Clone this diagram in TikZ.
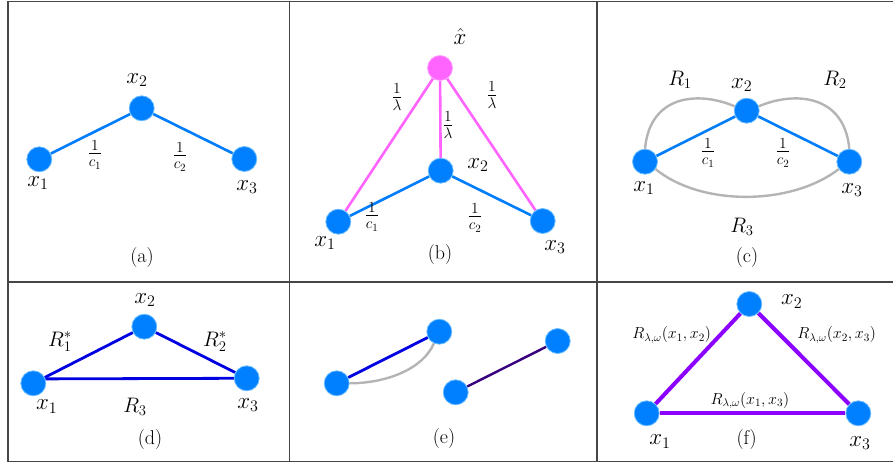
\RequirePackage{fix-cm}
\documentclass[tikz,border=0pt]{standalone}
\usepackage{amsmath}
\pgfdeclarelayer{bg}
\pgfsetlayers{bg,main}
\definecolor{nodeblue}{RGB}{0,128,255}
\definecolor{nodeedge}{RGB}{110,190,255}
\definecolor{edgeblue}{RGB}{0,125,250}
\definecolor{mag}{RGB}{255,100,255}
\definecolor{deepblue}{RGB}{0,0,225}
\definecolor{indig}{RGB}{55,0,125}
\definecolor{viol}{RGB}{140,0,255}
\definecolor{gridc}{RGB}{70,70,70}
\definecolor{curvegray}{RGB}{180,180,180}
\tikzset{
  vtx/.style={circle, minimum size=25pt, inner sep=0pt, fill=nodeblue, draw=nodeedge, line width=0.8pt},
  hvtx/.style={vtx, fill=mag, draw=mag!60!white},
  lab/.style={inner sep=0pt, font=\fontsize{23}{27}\selectfont},
  rlab/.style={inner sep=0pt, font=\fontsize{21}{25}\selectfont},
  flab/.style={inner sep=0pt, font=\fontsize{16}{19}\selectfont},
  caplab/.style={inner sep=0pt, font=\fontsize{20}{24}\selectfont},
  frc/.style={inner sep=0pt, font=\fontsize{22}{26}\selectfont},
  bluee/.style={draw=edgeblue, line width=2.6pt},
  mage/.style={draw=mag, line width=2.6pt},
  graye/.style={draw=curvegray, line width=2.4pt},
  deepe/.style={draw=deepblue, line width=2.8pt},
  indige/.style={draw=indig, line width=2.4pt},
  viole/.style={draw=viol, line width=4pt},
  gridline/.style={draw=gridc, line width=1.1pt}
}
\begin{document}
\begin{tikzpicture}[x=1pt,y=1pt]
\useasboundingbox (0,0) rectangle (893,464);
% grid
\coordinate (tl) at (8,462.5);
\coordinate (tr) at (893,462.5);
\coordinate (bl) at (8,2.5);
\coordinate (br) at (893,2.5);
\coordinate (ml) at (8,182);
\coordinate (mr) at (893,182);
\coordinate (v1t) at (289.7,462.5);
\coordinate (v1b) at (289.7,2.5);
\coordinate (v2t) at (597,462.5);
\coordinate (v2b) at (597,2.5);
\draw[gridline] (tr) -- (tl) -- (bl) -- (br);
\draw[gridline] (ml) -- (mr);
\draw[gridline] (v1t) -- (v1b);
\draw[gridline] (v2t) -- (v2b);

% ---------- panel (a)
\node[vtx] (ax1) at (39.3,304.7) {};
\node[vtx] (ax2) at (141.7,355.7) {};
\node[vtx] (ax3) at (244.3,305) {};
\node[lab] (ax1l) at (38,281) {$x_1$};
\node[lab] (ax2l) at (137,384) {$x_2$};
\node[lab] (ax3l) at (247,277) {$x_3$};
\node[frc] (ac1) at (95,309) {$\frac{1}{c_1}$};
\node[frc] (ac2) at (180,307) {$\frac{1}{c_2}$};
\node[caplab] (acap) at (142,206) {(a)};
\begin{pgfonlayer}{bg}
\draw[bluee] (ax1) -- (ax2);
\draw[bluee] (ax2) -- (ax3);
\end{pgfonlayer}

% ---------- panel (b)
\node[hvtx] (bh) at (440,396) {};
\node[vtx] (bx1) at (338.3,242.3) {};
\node[vtx] (bx2) at (440.7,293.3) {};
\node[vtx] (bx3) at (542.7,243) {};
\node[lab] (bhl) at (460,427) {$\hat{x}$};
\node[lab] (bx1l) at (325,221) {$x_1$};
\node[lab] (bx2l) at (478,299) {$x_2$};
\node[lab] (bx3l) at (555,217) {$x_3$};
\node[frc] (bl1) at (397,367) {$\frac{1}{\lambda}$};
\node[frc] (bl2) at (448,339) {$\frac{1}{\lambda}$};
\node[frc] (bl3) at (492,369) {$\frac{1}{\lambda}$};
\node[frc] (bc1) at (372,247) {$\frac{1}{c_1}$};
\node[frc] (bc2) at (475,246) {$\frac{1}{c_2}$};
\node[caplab] (bcap) at (440,209) {(b)};
\begin{pgfonlayer}{bg}
\draw[mage] (bh) -- (bx1);
\draw[mage] (bh) -- (bx2);
\draw[mage] (bh) -- (bx3);
\draw[bluee] (bx1) -- (bx2);
\draw[bluee] (bx2) -- (bx3);
\end{pgfonlayer}

% ---------- panel (c)
\node[vtx] (cx1) at (645,302.3) {};
\node[vtx] (cx2) at (746.7,353.3) {};
\node[vtx] (cx3) at (849.3,302.3) {};
\node[rlab] (cr1) at (680,384) {$R_1$};
\node[rlab] (cr2) at (835,384) {$R_2$};
\node[rlab] (cr3) at (742,237) {$R_3$};
\node[lab] (cx2l) at (741.7,379) {$x_2$};
\node[lab] (cx1l) at (644,276) {$x_1$};
\node[lab] (cx3l) at (852,274) {$x_3$};
\node[frc] (cc1) at (708,311) {$\frac{1}{c_1}$};
\node[frc] (cc2) at (783,311) {$\frac{1}{c_2}$};
\node[caplab] (ccap) at (747,206) {(c)};
\begin{pgfonlayer}{bg}
\draw[graye] (cx1.north) .. controls +(5,55) and +(-35,15) .. (cx2.160);
\draw[graye] (cx2.20) .. controls +(35,15) and +(-5,55) .. (cx3.north);
\draw[graye] (cx1.-35) .. controls +(45,-37) and +(-48,-37) .. (cx3.-145);
\draw[bluee] (cx1) -- (cx2);
\draw[bluee] (cx2) -- (cx3);
\end{pgfonlayer}

% ---------- panel (d)
\node[vtx] (dx1) at (33.3,80.7) {};
\node[vtx] (dx2) at (144.3,137.3) {};
\node[vtx] (dx3) at (246.7,85.7) {};
\node[lab] (dx2l) at (145,164) {$x_2$};
\node[lab] (dx1l) at (46.7,57.3) {$x_1$};
\node[lab] (dx3l) at (248,59) {$x_3$};
\node[rlab] (dr1) at (60,122.3) {$R_1^*$};
\node[rlab] (dr2) at (215,122.3) {$R_2^*$};
\node[rlab] (dr3) at (135,57.3) {$R_3$};
\node[caplab] (dcap) at (150,24) {(d)};
\begin{pgfonlayer}{bg}
\draw[deepe] (dx1) -- (dx2);
\draw[deepe] (dx2) -- (dx3);
\draw[deepe] (dx1.20) -- (dx3.west);
\end{pgfonlayer}

% ---------- panel (e)
\node[vtx] (e1) at (336.7,80.7) {};
\node[vtx] (e2) at (439.3,132.3) {};
\node[vtx] (e3) at (455.7,71.7) {};
\node[vtx] (e4) at (557.7,123) {};
\node[caplab] (ecap) at (444,25.7) {(e)};
\begin{pgfonlayer}{bg}
\draw[graye] (e1.east) .. controls +(36,0) and +(-11,-26) .. (e2.-115);
\draw[deepe] (e1) -- (e2);
\draw[indige] (e3) -- (e4);
\end{pgfonlayer}

% ---------- panel (f)
\node[vtx] (fx1) at (646.7,50.7) {};
\node[vtx] (fx2) at (749.3,160) {};
\node[vtx] (fx3) at (858.3,50.7) {};
\node[lab] (fx2l) at (791.7,162.3) {$x_2$};
\node[lab] (fx1l) at (660,22.3) {$x_1$};
\node[lab] (fx3l) at (860,20.7) {$x_3$};
\node[flab] (fr12) at (671.7,129) {$R_{\lambda,\omega}(x_1,x_2)$};
\node[flab] (fr23) at (836.7,129) {$R_{\lambda,\omega}(x_2,x_3)$};
\node[flab] (fr13) at (750,63.3) {$R_{\lambda,\omega}(x_1,x_3)$};
\node[caplab] (fcap) at (746.7,24) {(f)};
\begin{pgfonlayer}{bg}
\draw[viole] (fx1) -- (fx2);
\draw[viole] (fx2) -- (fx3);
\draw[viole] (fx1) -- (fx3);
\end{pgfonlayer}
\end{tikzpicture}
\end{document}
